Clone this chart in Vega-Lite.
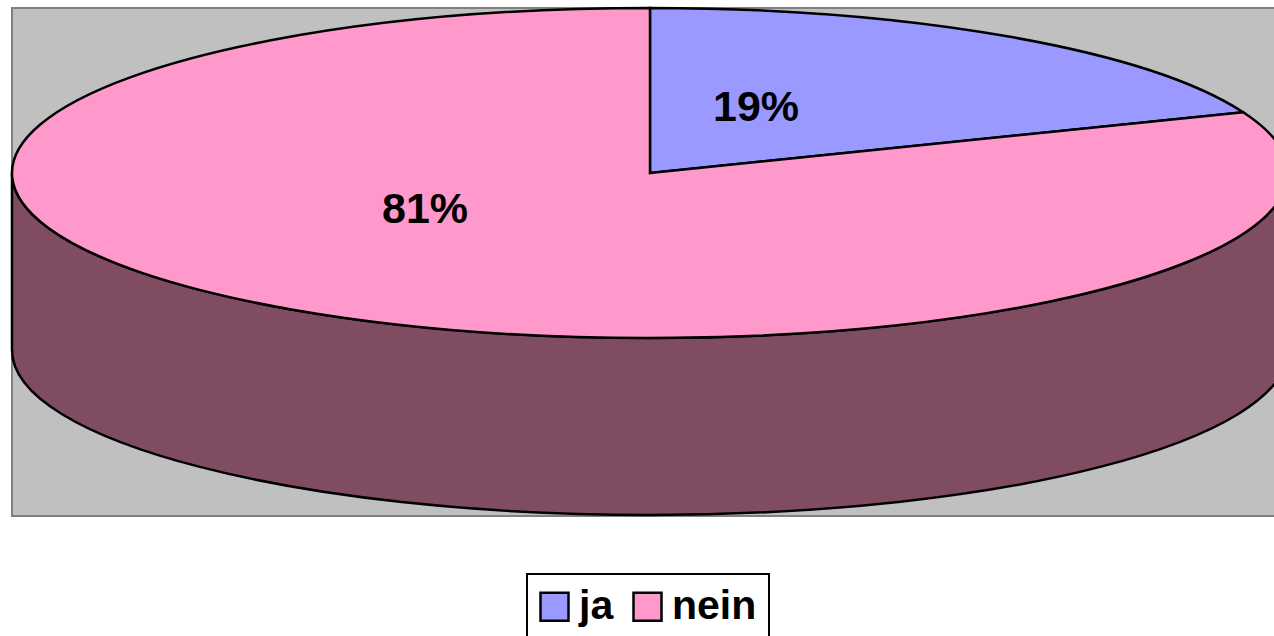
{
  "$schema": "https://vega.github.io/schema/vega-lite/v6.json",
  "width": 1276,
  "height": 508,
  "autosize": {"type": "none"},
  "padding": {"left": 12, "top": 8, "right": 0, "bottom": 120},
  "background": "white",
  "view": {"fill": "#c0c0c0", "stroke": "#808080", "strokeWidth": 2},
  "data": {"values": [
    {"answer": "ja", "percent": 19, "label": "19%"},
    {"answer": "nein", "percent": 81, "label": "81%"}
  ]},
  "layer": [
    {
      "mark": {"type": "square", "size": 784, "filled": true, "stroke": "black", "strokeWidth": 2.5, "opacity": 1},
      "encoding": {
        "color": {
          "field": "answer", "type": "nominal",
          "scale": {"domain": ["ja", "nein"], "range": ["#9999ff", "#ff99cc"]},
          "legend": {
            "title": null, "orient": "none", "legendX": 515, "legendY": 566, "direction": "horizontal",
            "symbolType": "square", "symbolSize": 784, "symbolStrokeColor": "black", "symbolStrokeWidth": 2.5, "symbolOpacity": 1,
            "symbolOffset": -5,
            "labelFont": "Liberation Sans", "labelFontWeight": "bold", "labelFontSize": 41, "labelColor": "black",
            "labelOffset": 4, "columnPadding": 14, "padding": 12, "strokeColor": "black", "fillColor": "white", "labelLimit": 0,
            "encode": {"legend": {"update": {"strokeWidth": {"value": 2}}}}
          }
        }
      }
    },
    {
      "transform": [{"filter": "datum.answer === 'nein'"}],
      "mark": {"type": "point", "shape": "M -1 -0.1395 L -1 0.1379 A 1 0.2586 0 0 0 1 0.1379 L 1 -0.1395 A 1 0.2586 0 0 1 -1 -0.1395 Z", "size": 1628176, "filled": true, "fill": "#804c62", "stroke": "black", "strokeWidth": 2.5, "opacity": 1},
      "encoding": {}
    },
    {
      "transform": [{"filter": "datum.answer === 'ja'"}],
      "mark": {"type": "point", "shape": "M 0 -0.1395 L 0 -0.3981 A 1 0.2586 0 0 1 0.9298 -0.2347 Z", "size": 1628176, "filled": true, "stroke": "black", "strokeWidth": 2.5, "opacity": 1},
      "encoding": {"color": {"field": "answer", "type": "nominal", "legend": null}}
    },
    {
      "transform": [{"filter": "datum.answer === 'nein'"}],
      "mark": {"type": "point", "shape": "M 0 -0.1395 L 0.9298 -0.2347 A 1 0.2586 0 1 1 0 -0.3981 Z", "size": 1628176, "filled": true, "stroke": "black", "strokeWidth": 2.5, "opacity": 1},
      "encoding": {"color": {"field": "answer", "type": "nominal", "legend": null}}
    },
    {
      "transform": [{"filter": "datum.answer === 'ja'"}],
      "mark": {"type": "text", "font": "Liberation Sans", "fontWeight": "bold", "fontSize": 43, "color": "black", "align": "center", "baseline": "alphabetic", "dx": 106, "dy": -141},
      "encoding": {"text": {"field": "label", "type": "nominal"}}
    },
    {
      "transform": [{"filter": "datum.answer === 'nein'"}],
      "mark": {"type": "text", "font": "Liberation Sans", "fontWeight": "bold", "fontSize": 43, "color": "black", "align": "center", "baseline": "alphabetic", "dx": -225, "dy": -39},
      "encoding": {"text": {"field": "label", "type": "nominal"}}
    }
  ]
}
